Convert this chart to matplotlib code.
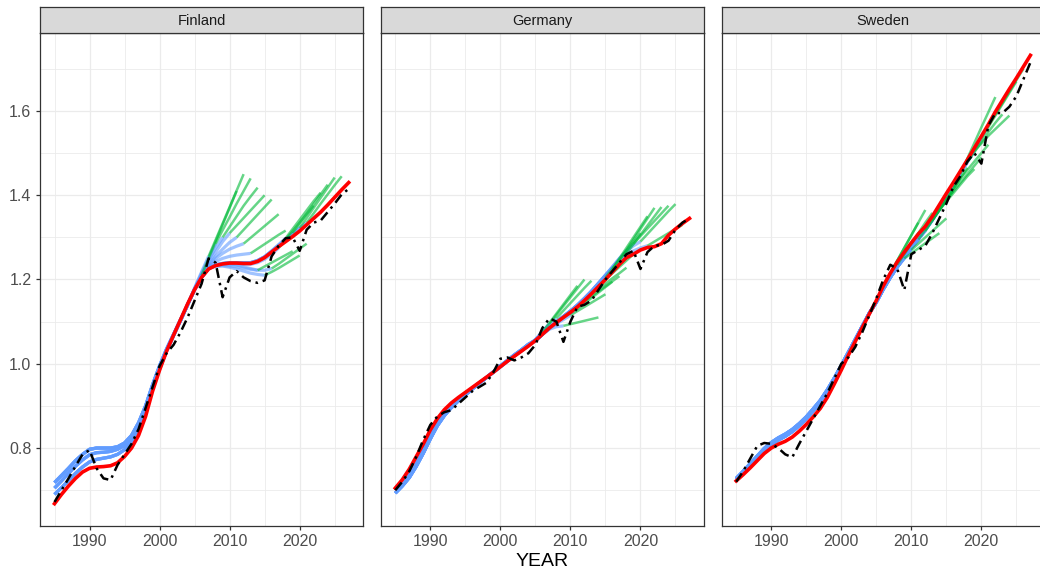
import numpy as np
import matplotlib
matplotlib.use("Agg")
import matplotlib.pyplot as plt
from matplotlib.ticker import MultipleLocator, FormatStrFormatter

plt.rcParams["font.family"] = ["Liberation Sans", "DejaVu Sans"]

years = list(range(1985, 2028))
countries = ["Finland", "Germany", "Sweden"]

# observed series (black) and full-sample trend (red), 1985-2027
fi_actual = [0.672, 0.700, 0.728, 0.757, 0.785, 0.795, 0.752, 0.728, 0.724, 0.760,
             0.785, 0.810, 0.845, 0.895, 0.945, 0.995, 1.025, 1.045, 1.075, 1.110,
             1.150, 1.190, 1.250, 1.240, 1.158, 1.205, 1.220, 1.205, 1.196, 1.192,
             1.198, 1.255, 1.280, 1.298, 1.300, 1.268, 1.318, 1.335, 1.340, 1.360,
             1.380, 1.402, 1.415]
fi_trend = [0.668, 0.690, 0.710, 0.728, 0.743, 0.752, 0.755, 0.756, 0.758, 0.765,
            0.780, 0.800, 0.830, 0.875, 0.935, 0.985, 1.030, 1.068, 1.105, 1.142,
            1.176, 1.205, 1.225, 1.233, 1.237, 1.239, 1.239, 1.238, 1.238, 1.243,
            1.252, 1.265, 1.278, 1.290, 1.302, 1.315, 1.330, 1.345, 1.360, 1.377,
            1.395, 1.413, 1.430]

de_actual = [0.700, 0.720, 0.745, 0.780, 0.820, 0.855, 0.875, 0.885, 0.890, 0.905,
             0.920, 0.935, 0.945, 0.955, 0.980, 1.012, 1.015, 1.008, 1.015, 1.025,
             1.045, 1.085, 1.108, 1.100, 1.052, 1.100, 1.135, 1.140, 1.150, 1.175,
             1.200, 1.220, 1.240, 1.260, 1.268, 1.225, 1.265, 1.280, 1.282, 1.292,
             1.318, 1.335, 1.345]
de_trend = [0.705, 0.725, 0.750, 0.780, 0.810, 0.843, 0.870, 0.891, 0.907, 0.920,
            0.932, 0.944, 0.956, 0.968, 0.980, 0.993, 1.006, 1.018, 1.030, 1.042,
            1.055, 1.070, 1.085, 1.098, 1.110, 1.122, 1.135, 1.150, 1.166, 1.183,
            1.200, 1.218, 1.236, 1.252, 1.260, 1.270, 1.276, 1.278, 1.285, 1.305,
            1.320, 1.333, 1.345]

se_actual = [0.720, 0.745, 0.775, 0.805, 0.812, 0.810, 0.800, 0.785, 0.778, 0.810,
             0.840, 0.870, 0.900, 0.930, 0.965, 1.000, 1.015, 1.040, 1.075, 1.115,
             1.155, 1.200, 1.235, 1.225, 1.175, 1.260, 1.270, 1.280, 1.310, 1.345,
             1.380, 1.420, 1.445, 1.480, 1.500, 1.475, 1.565, 1.595, 1.595, 1.610,
             1.635, 1.675, 1.715]
se_trend = [0.722, 0.737, 0.753, 0.770, 0.787, 0.800, 0.809, 0.816, 0.826, 0.840,
            0.856, 0.874, 0.894, 0.920, 0.952, 0.985, 1.020, 1.053, 1.086, 1.118,
            1.150, 1.185, 1.215, 1.242, 1.265, 1.287, 1.308, 1.326, 1.350, 1.377,
            1.404, 1.430, 1.457, 1.484, 1.512, 1.540, 1.568, 1.598, 1.625, 1.652,
            1.678, 1.705, 1.732]

# real-time trend vintages: early part 1985-2004, late part 2005..vintage, forecast vintage..vintage+5
vintages = list(range(2006, 2022))

fi_early = [
    [0.718, 0.735, 0.752, 0.770, 0.785, 0.797, 0.800, 0.800, 0.800, 0.803,
     0.812, 0.830, 0.860, 0.900, 0.950, 0.995, 1.035, 1.070, 1.105, 1.140],
    [0.705, 0.722, 0.740, 0.757, 0.772, 0.784, 0.789, 0.790, 0.792, 0.797,
     0.806, 0.823, 0.855, 0.895, 0.945, 0.990, 1.032, 1.068, 1.103, 1.140],
    [0.690, 0.706, 0.723, 0.740, 0.755, 0.767, 0.773, 0.776, 0.779, 0.785,
     0.796, 0.815, 0.848, 0.890, 0.940, 0.988, 1.030, 1.067, 1.103, 1.140],
]
fi_blue = [
    [1.178, 1.210],
    [1.180, 1.218, 1.255],
    [1.178, 1.215, 1.250, 1.285],
    [1.177, 1.212, 1.245, 1.275, 1.300],
    [1.177, 1.210, 1.240, 1.265, 1.290, 1.310],
    [1.177, 1.208, 1.235, 1.255, 1.272, 1.288, 1.300],
    [1.176, 1.207, 1.232, 1.250, 1.262, 1.272, 1.279, 1.285],
    [1.176, 1.206, 1.230, 1.243, 1.250, 1.255, 1.258, 1.260, 1.262],
    [1.176, 1.205, 1.228, 1.236, 1.238, 1.237, 1.234, 1.230, 1.226, 1.222],
    [1.176, 1.205, 1.226, 1.232, 1.232, 1.229, 1.225, 1.220, 1.215, 1.212, 1.210],
    [1.176, 1.205, 1.226, 1.232, 1.233, 1.232, 1.230, 1.227, 1.224, 1.222, 1.222, 1.226],
    [1.176, 1.205, 1.226, 1.233, 1.236, 1.237, 1.237, 1.236, 1.236, 1.240, 1.248, 1.260, 1.275],
    [1.176, 1.205, 1.226, 1.234, 1.238, 1.240, 1.240, 1.240, 1.240, 1.245, 1.254, 1.268, 1.283, 1.298],
    [1.176, 1.205, 1.226, 1.234, 1.238, 1.240, 1.240, 1.240, 1.240, 1.245, 1.254, 1.267, 1.280, 1.294, 1.310],
    [1.176, 1.205, 1.226, 1.234, 1.238, 1.240, 1.240, 1.240, 1.240, 1.245, 1.254, 1.267, 1.281, 1.294, 1.308, 1.322],
    [1.176, 1.205, 1.226, 1.234, 1.238, 1.240, 1.240, 1.240, 1.240, 1.245, 1.254, 1.267, 1.281, 1.294, 1.308, 1.322, 1.335],
]
fi_green = [
    [1.210, 1.250, 1.290, 1.330, 1.370, 1.410],
    [1.255, 1.294, 1.333, 1.372, 1.411, 1.450],
    [1.285, 1.317, 1.348, 1.380, 1.410, 1.440],
    [1.300, 1.325, 1.350, 1.375, 1.397, 1.418],
    [1.310, 1.328, 1.346, 1.364, 1.382, 1.400],
    [1.300, 1.318, 1.336, 1.354, 1.372, 1.390],
    [1.285, 1.299, 1.313, 1.327, 1.341, 1.355],
    [1.262, 1.273, 1.284, 1.295, 1.306, 1.316],
    [1.222, 1.231, 1.240, 1.249, 1.258, 1.267],
    [1.210, 1.218, 1.227, 1.237, 1.247, 1.257],
    [1.226, 1.237, 1.249, 1.261, 1.273, 1.285],
    [1.275, 1.295, 1.315, 1.335, 1.355, 1.375],
    [1.298, 1.320, 1.342, 1.364, 1.386, 1.406],
    [1.310, 1.333, 1.356, 1.379, 1.402, 1.425],
    [1.322, 1.346, 1.370, 1.394, 1.418, 1.442],
    [1.335, 1.357, 1.380, 1.402, 1.424, 1.445],
]

de_early = [
    [0.700, 0.720, 0.743, 0.772, 0.803, 0.836, 0.864, 0.886, 0.903, 0.917,
     0.930, 0.942, 0.955, 0.967, 0.980, 0.993, 1.006, 1.019, 1.031, 1.044],
    [0.693, 0.710, 0.730, 0.757, 0.788, 0.822, 0.853, 0.877, 0.896, 0.912,
     0.926, 0.940, 0.954, 0.967, 0.981, 0.995, 1.008, 1.021, 1.033, 1.046],
]
de_blue = [
    [1.057, 1.075],
    [1.057, 1.076, 1.095],
    [1.057, 1.076, 1.094, 1.108],
    [1.055, 1.070, 1.082, 1.088, 1.090],
    [1.055, 1.070, 1.084, 1.095, 1.105, 1.115],
    [1.055, 1.070, 1.085, 1.098, 1.110, 1.120, 1.130],
    [1.055, 1.070, 1.085, 1.099, 1.112, 1.124, 1.136, 1.148],
    [1.055, 1.070, 1.085, 1.099, 1.112, 1.125, 1.138, 1.151, 1.165],
    [1.055, 1.070, 1.085, 1.099, 1.112, 1.125, 1.139, 1.154, 1.169, 1.185],
    [1.055, 1.070, 1.085, 1.099, 1.112, 1.125, 1.139, 1.155, 1.171, 1.188, 1.205],
    [1.055, 1.070, 1.085, 1.099, 1.112, 1.125, 1.139, 1.155, 1.172, 1.190, 1.207, 1.225],
    [1.055, 1.070, 1.085, 1.099, 1.112, 1.125, 1.139, 1.155, 1.172, 1.191, 1.210, 1.228, 1.245],
    [1.055, 1.070, 1.085, 1.099, 1.112, 1.125, 1.139, 1.155, 1.172, 1.191, 1.210, 1.228, 1.246, 1.262],
    [1.055, 1.070, 1.085, 1.099, 1.112, 1.125, 1.139, 1.155, 1.172, 1.191, 1.210, 1.230, 1.250, 1.268, 1.285],
    [1.055, 1.070, 1.085, 1.099, 1.112, 1.125, 1.139, 1.155, 1.172, 1.191, 1.210, 1.230, 1.250, 1.267, 1.280, 1.290],
    [1.055, 1.070, 1.085, 1.099, 1.112, 1.125, 1.139, 1.155, 1.172, 1.190, 1.208, 1.226, 1.244, 1.258, 1.268, 1.275, 1.280],
]
de_green = [
    [1.075, 1.097, 1.119, 1.141, 1.163, 1.185],
    [1.095, 1.116, 1.137, 1.158, 1.179, 1.200],
    [1.108, 1.126, 1.144, 1.162, 1.180, 1.197],
    [1.090, 1.094, 1.098, 1.102, 1.106, 1.110],
    [1.115, 1.125, 1.135, 1.145, 1.155, 1.165],
    [1.130, 1.143, 1.156, 1.169, 1.182, 1.195],
    [1.148, 1.160, 1.172, 1.184, 1.196, 1.208],
    [1.165, 1.178, 1.190, 1.203, 1.215, 1.228],
    [1.185, 1.200, 1.215, 1.230, 1.245, 1.260],
    [1.205, 1.226, 1.247, 1.268, 1.289, 1.310],
    [1.225, 1.250, 1.275, 1.300, 1.325, 1.350],
    [1.245, 1.270, 1.295, 1.320, 1.345, 1.370],
    [1.262, 1.284, 1.306, 1.328, 1.350, 1.372],
    [1.285, 1.303, 1.321, 1.339, 1.357, 1.375],
    [1.290, 1.308, 1.326, 1.344, 1.362, 1.379],
    [1.280, 1.290, 1.300, 1.310, 1.320, 1.330],
]

se_early = [
    [0.725, 0.741, 0.758, 0.776, 0.794, 0.808, 0.819, 0.828, 0.839, 0.853,
     0.869, 0.888, 0.909, 0.934, 0.963, 0.994, 1.026, 1.057, 1.089, 1.120],
    [0.728, 0.745, 0.763, 0.781, 0.799, 0.813, 0.824, 0.833, 0.844, 0.858,
     0.874, 0.893, 0.913, 0.938, 0.966, 0.996, 1.027, 1.058, 1.089, 1.120],
]
se_blue = [
    [1.148, 1.185],
    [1.148, 1.183, 1.215],
    [1.147, 1.180, 1.210, 1.235],
    [1.146, 1.178, 1.206, 1.230, 1.250],
    [1.146, 1.177, 1.205, 1.230, 1.250, 1.270],
    [1.146, 1.177, 1.205, 1.230, 1.253, 1.274, 1.295],
    [1.146, 1.177, 1.205, 1.230, 1.253, 1.275, 1.295, 1.315],
    [1.146, 1.177, 1.205, 1.230, 1.253, 1.275, 1.296, 1.317, 1.340],
    [1.146, 1.177, 1.205, 1.230, 1.253, 1.275, 1.296, 1.318, 1.341, 1.365],
    [1.146, 1.177, 1.205, 1.230, 1.253, 1.275, 1.296, 1.318, 1.342, 1.366, 1.390],
    [1.146, 1.177, 1.205, 1.230, 1.253, 1.275, 1.296, 1.318, 1.342, 1.368, 1.394, 1.420],
    [1.146, 1.177, 1.205, 1.230, 1.253, 1.275, 1.296, 1.318, 1.342, 1.368, 1.396, 1.423, 1.450],
    [1.146, 1.177, 1.205, 1.230, 1.253, 1.275, 1.296, 1.318, 1.342, 1.368, 1.397, 1.425, 1.452, 1.478],
    [1.146, 1.177, 1.205, 1.230, 1.253, 1.275, 1.296, 1.318, 1.342, 1.368, 1.397, 1.426, 1.453, 1.479, 1.505],
    [1.146, 1.177, 1.205, 1.230, 1.253, 1.275, 1.296, 1.318, 1.342, 1.368, 1.397, 1.426, 1.454, 1.480, 1.507, 1.535],
    [1.146, 1.177, 1.205, 1.230, 1.253, 1.275, 1.296, 1.318, 1.342, 1.368, 1.397, 1.426, 1.454, 1.481, 1.509, 1.537, 1.565],
]
se_green = [
    [1.185, 1.215, 1.245, 1.275, 1.305, 1.335],
    [1.215, 1.245, 1.275, 1.305, 1.335, 1.365],
    [1.235, 1.260, 1.285, 1.310, 1.335, 1.358],
    [1.250, 1.262, 1.274, 1.286, 1.298, 1.310],
    [1.270, 1.285, 1.300, 1.315, 1.330, 1.345],
    [1.295, 1.318, 1.341, 1.364, 1.387, 1.410],
    [1.315, 1.340, 1.365, 1.390, 1.415, 1.440],
    [1.340, 1.365, 1.390, 1.415, 1.440, 1.465],
    [1.365, 1.385, 1.405, 1.425, 1.445, 1.462],
    [1.390, 1.410, 1.430, 1.450, 1.470, 1.490],
    [1.420, 1.440, 1.460, 1.480, 1.500, 1.520],
    [1.450, 1.487, 1.524, 1.561, 1.597, 1.633],
    [1.478, 1.502, 1.526, 1.550, 1.572, 1.592],
    [1.505, 1.523, 1.541, 1.557, 1.573, 1.589],
    [1.535, 1.562, 1.589, 1.616, 1.643, 1.670],
    [1.565, 1.592, 1.619, 1.646, 1.673, 1.700],
]

panels = [
    (fi_actual, fi_trend, fi_early, fi_blue, fi_green),
    (de_actual, de_trend, de_early, de_blue, de_green),
    (se_actual, se_trend, se_early, se_blue, se_green),
]

W, H = 1040, 574
fig = plt.figure(figsize=(W / 100, H / 100), dpi=100)

panel_left = [39.8, 380.6, 721.5]
panel_w = 323.6
panel_top, panel_bot = 33, 526
strip_h = 26

for k, name in enumerate(countries):
    actual, trend, early, blue, green = panels[k]
    x0 = panel_left[k] / W
    ax = fig.add_axes([x0, (H - panel_bot) / H, panel_w / W, (panel_bot - panel_top) / H])

    for i, v in enumerate(vintages):
        bx = list(range(1985, v + 1))
        by = early[i % len(early)] + blue[i]
        ax.plot(bx, by, color="#619CFF", lw=2.3, alpha=0.6, solid_capstyle="butt", zorder=2)
    for i, v in enumerate(vintages):
        gx = list(range(v, v + 6))
        ax.plot(gx, green[i], color="#00BA38", lw=1.8, alpha=0.6, solid_capstyle="butt", zorder=3)

    ax.plot(years, trend, color="#FF0000", lw=2.6, zorder=4)
    ax.plot(years, actual, color="black", lw=1.8, dashes=(4.0, 2.0, 1.0, 2.0), zorder=5)

    ax.set_xlim(1982.9, 2029.1)
    ax.set_ylim(0.615, 1.785)
    ax.xaxis.set_major_locator(MultipleLocator(10))
    ax.xaxis.set_minor_locator(MultipleLocator(5))
    ax.yaxis.set_major_locator(MultipleLocator(0.2))
    ax.yaxis.set_minor_locator(MultipleLocator(0.1))
    ax.yaxis.set_major_formatter(FormatStrFormatter("%.1f"))
    ax.grid(which="major", color="#EBEBEB", lw=0.9, zorder=0)
    ax.grid(which="minor", color="#EBEBEB", lw=0.6, zorder=0)
    ax.set_axisbelow(True)
    for s in ax.spines.values():
        s.set_color("#333333")
        s.set_linewidth(0.9)
    ax.tick_params(which="major", length=3, width=0.9, color="#333333",
                   labelsize=11.5, labelcolor="#4D4D4D", pad=3)
    ax.tick_params(which="minor", length=0)
    if k > 0:
        ax.tick_params(axis="y", which="major", length=0, labelleft=False)

    sax = fig.add_axes([x0, (H - panel_top) / H, panel_w / W, strip_h / H])
    sax.set_facecolor("#D9D9D9")
    sax.set_xticks([])
    sax.set_yticks([])
    for s in sax.spines.values():
        s.set_color("#333333")
        s.set_linewidth(0.9)
    sax.text(0.5, 0.48, name, ha="center", va="center", fontsize=10.5,
             color="#1A1A1A", transform=sax.transAxes)

fig.text((panel_left[0] + panel_left[2] + panel_w) / 2 / W, 1 - 562 / H, "YEAR",
         ha="center", va="center", fontsize=14, color="black")

fig.savefig("out.png", dpi=100)
